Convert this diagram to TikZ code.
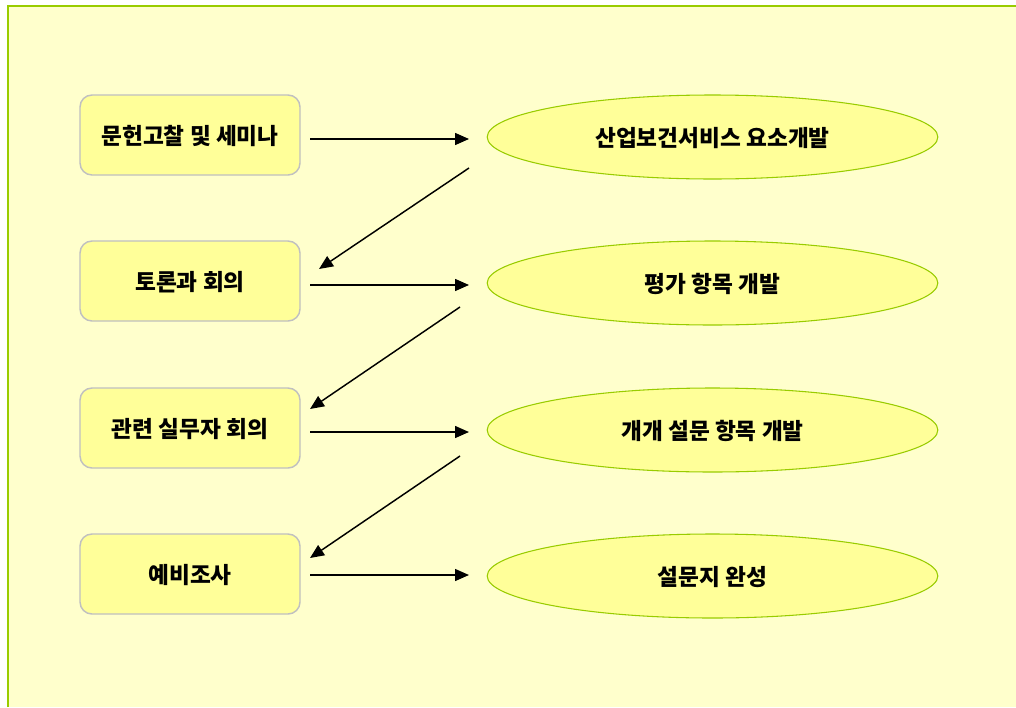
\documentclass[tikz,border=0pt]{standalone}
\usepackage{fontspec}
\newfontfamily\kr{Noto Sans CJK KR}
\usetikzlibrary{arrows.meta,shapes.geometric}
\definecolor{bgyel}{HTML}{FFFFCC}
\definecolor{boxyel}{HTML}{FFFF99}
\definecolor{lgreen}{HTML}{99CC00}
\definecolor{bgray}{HTML}{C0C0C0}
\tikzset{
  x=0.75pt,y=-0.75pt,
  stepbox/.style={draw=bgray,line width=1.1pt,fill=boxyel,rounded corners=9pt,
    minimum width=165pt,minimum height=60pt,inner sep=0pt,
    text height=13.9pt,text depth=0pt,
    font=\kr\bfseries\fontsize{17pt}{20pt}\selectfont},
  goal/.style={draw=lgreen,line width=0.8pt,fill=boxyel,ellipse,
    minimum width=338pt,minimum height=63pt,inner sep=0pt,
    text height=14.2pt,text depth=0pt,
    font=\kr\bfseries\fontsize{17pt}{20pt}\selectfont},
  conn/.style={line width=1.1pt,-{Triangle[length=10.5pt,width=9pt]}},
}
\begin{document}
\begin{tikzpicture}
\useasboundingbox (0,0) rectangle (1016,707);
\fill[white] (0,0) rectangle (1016,707);
\fill[bgyel] (8,6) rectangle (1016,707);
\draw[lgreen,line width=1.5pt] (8,707) -- (8,6) -- (1016,6);

\node[stepbox] (b1) at (190,135) {문헌고찰 및 세미나};
\node[stepbox] (b2) at (190,281) {토론과 회의};
\node[stepbox] (b3) at (190,428) {관련 실무자 회의};
\node[stepbox] (b4) at (190,574) {예비조사};

\node[goal] (e1) at (712.5,137) {산업보건서비스 요소개발};
\node[goal] (e2) at (712.5,283) {평가 항목 개발};
\node[goal] (e3) at (712.5,430) {개개 설문 항목 개발};
\node[goal] (e4) at (712.5,576) {설문지 완성};

\coordinate (h1s) at (310,139); \coordinate (h1e) at (469,139);
\coordinate (h2s) at (310,285); \coordinate (h2e) at (469,285);
\coordinate (h3s) at (310,432); \coordinate (h3e) at (469,432);
\coordinate (h4s) at (310,575); \coordinate (h4e) at (469,575);
\draw[conn] (h1s) -- (h1e);
\draw[conn] (h2s) -- (h2e);
\draw[conn] (h3s) -- (h3e);
\draw[conn] (h4s) -- (h4e);

\coordinate (d1s) at (469,168); \coordinate (d1e) at (319,269);
\coordinate (d2s) at (460,307); \coordinate (d2e) at (310,409);
\coordinate (d3s) at (460,456); \coordinate (d3e) at (310,558);
\draw[conn] (d1s) -- (d1e);
\draw[conn] (d2s) -- (d2e);
\draw[conn] (d3s) -- (d3e);
\end{tikzpicture}
\end{document}
